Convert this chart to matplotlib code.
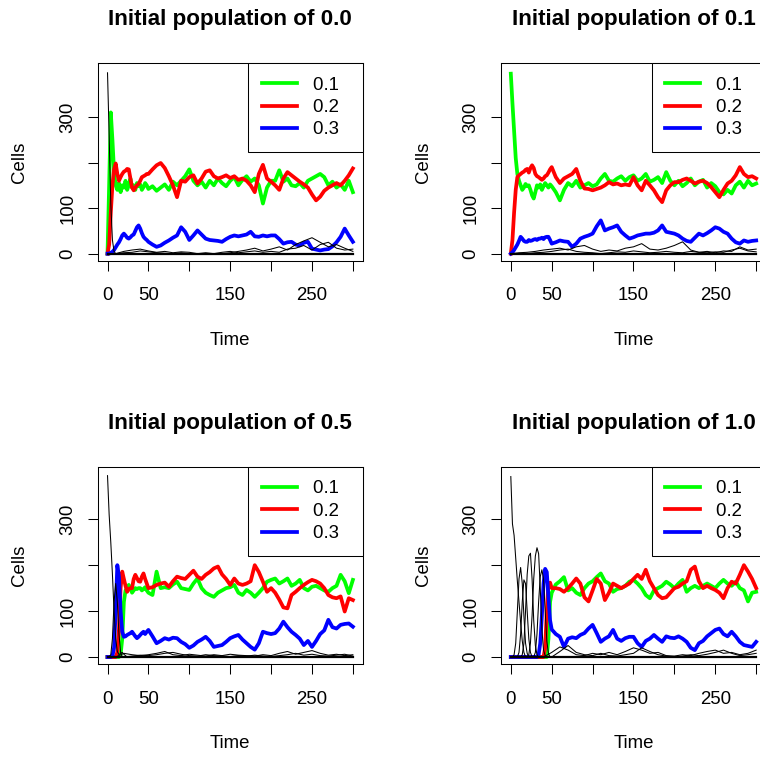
import matplotlib
matplotlib.use('Agg')
import matplotlib.pyplot as plt

plt.rcParams['font.family'] = ['Liberation Sans', 'DejaVu Sans']

# time grids: fine at the start, then every 5 steps
head_t = list(range(0, 51, 2))
tail_t = list(range(55, 301, 5))
time = head_t + tail_t
coarse_t = list(range(0, 301, 10))

labels = ['0.1', '0.2', '0.3']
colors = ['#00FF00', '#FF0000', '#0000FF']
titles = ['Initial population of 0.0', 'Initial population of 0.1',
          'Initial population of 0.5', 'Initial population of 1.0']
x_ticks = [0, 50, 100, 150, 200, 250, 300]
x_ticklabels = ['0', '50', '', '150', '', '250', '']
y_ticks = [0, 100, 200, 300]
y_ticklabels = ['0', '100', '', '300']

# ---- initial population 0.0
green_00 = [0, 150, 310, 250, 180, 150, 140, 155, 135, 150, 145, 160, 140, 150, 165, 145, 150, 140, 155, 148, 152, 140, 146, 155, 150, 142,
            148, 138, 145, 152, 140, 158, 150, 160, 170, 185, 160, 150, 158, 145, 160, 150, 165, 155, 148, 160,
            168, 150, 162, 170, 158, 165, 150, 110, 145, 160, 160, 183, 158, 165, 150, 148, 155, 145, 160, 165,
            170, 175, 168, 150, 158, 145, 152, 140, 160, 135]
red_00 = [0, 20, 90, 150, 185, 198, 175, 160, 168, 175, 180, 182, 186, 185, 165, 145, 139, 145, 150, 153, 160, 168, 170, 172, 175, 175,
          185, 194, 199, 188, 170, 150, 124, 160, 158, 168, 172, 154, 165, 180, 183, 170, 165, 168, 172, 166,
          170, 162, 165, 160, 150, 135, 175, 195, 165, 158, 150, 140, 165, 179, 172, 165, 158, 152, 145, 130,
          117, 125, 138, 145, 150, 155, 150, 160, 172, 187]
blue_00 = [0, 0, 2, 4, 8, 14, 20, 25, 32, 40, 44, 40, 35, 33, 36, 40, 42, 50, 58, 62, 55, 45, 37, 33, 30, 26,
           20, 15, 18, 24, 29, 35, 40, 58, 48, 30, 40, 51, 42, 33, 30, 29, 28, 26, 32, 37,
           40, 38, 40, 42, 48, 38, 37, 40, 38, 40, 40, 32, 22, 25, 26, 20, 18, 24, 26, 11,
           9, 7, 9, 10, 16, 25, 37, 55, 40, 26]
early_00 = [[397, 260, 110, 30, 5] + [0] * 21]
late_00 = [[0, 0, 5, 8, 10, 6, 3, 5, 2, 4, 3, 0, 2, 0, 0, 2, 5, 8, 12, 6, 10, 15, 8, 20, 28, 35, 25, 15, 20, 12, 5],
           [0, 0, 2, 3, 6, 4, 2, 1, 0, 2, 0, 0, 0, 0, 3, 5, 2, 4, 6, 3, 5, 3, 10, 12, 18, 8, 20, 25, 12, 8, 10]]

# ---- initial population 0.1
green_01 = [395, 330, 270, 210, 175, 160, 150, 140, 145, 153, 148, 150, 140, 128, 121, 135, 150, 145, 152, 140, 148, 155, 150, 145, 152, 148,
            135, 117, 140, 155, 148, 160, 145, 150, 155, 148, 152, 165, 175, 160, 158, 165, 170, 160, 168, 172,
            160, 165, 175, 158, 162, 168, 155, 179, 160, 150, 160, 148, 155, 165, 150, 158, 162, 145, 155, 148,
            135, 130, 140, 132, 150, 158, 145, 160, 150, 154]
red_01 = [0, 30, 90, 140, 168, 172, 175, 178, 180, 184, 186, 178, 188, 194, 188, 175, 170, 168, 165, 162, 165, 170, 172, 178, 185, 190,
          168, 155, 165, 170, 175, 186, 160, 143, 142, 139, 142, 145, 150, 157, 152, 154, 150, 152, 150, 168,
          150, 139, 160, 150, 139, 124, 113, 139, 150, 157, 157, 162, 165, 160, 154, 158, 160, 155, 146, 135,
          124, 140, 154, 160, 172, 190, 175, 168, 170, 165]
blue_01 = [0, 3, 8, 14, 20, 28, 37, 33, 28, 26, 26, 30, 28, 29, 31, 32, 30, 33, 33, 35, 32, 36, 37, 37, 30, 22,
           25, 29, 27, 26, 15, 22, 33, 37, 40, 44, 60, 73, 51, 55, 58, 62, 48, 40, 33, 36,
           40, 42, 44, 44, 46, 51, 62, 48, 46, 44, 40, 33, 28, 26, 35, 44, 40, 45, 51, 58,
           55, 48, 44, 33, 25, 22, 29, 26, 28, 29]
early_01 = []
late_01 = [[0, 2, 3, 5, 8, 10, 12, 8, 15, 18, 10, 5, 8, 6, 12, 15, 22, 10, 8, 12, 18, 26, 8, 3, 5, 2, 6, 5, 15, 8, 10],
           [0, 0, 0, 2, 3, 5, 8, 10, 5, 3, 2, 0, 2, 4, 3, 6, 4, 2, 3, 5, 3, 2, 5, 3, 2, 4, 3, 8, 12, 6, 4]]

# ---- initial population 0.5
green_05 = [0] * 8 + [5, 40, 120, 145, 150, 157, 150, 140, 145, 150, 148, 150, 150, 145, 148, 152, 145, 140,
            135, 186, 150, 152, 150, 158, 164, 150, 148, 146, 160, 171, 150, 140, 135, 131, 140, 145, 150, 152,
            157, 140, 135, 146, 140, 131, 140, 150, 164, 168, 171, 160, 165, 171, 155, 160, 168, 150, 145, 153,
            155, 150, 145, 142, 150, 155, 179, 165, 139, 168]
red_05 = [0] * 6 + [10, 60, 150, 186, 170, 155, 142, 148, 150, 150, 170, 179, 172, 165, 164, 175, 182, 170, 160, 150,
          152, 157, 160, 162, 153, 165, 175, 172, 170, 179, 188, 175, 170, 179, 185, 193, 197, 180, 170, 157,
          171, 160, 157, 160, 165, 200, 185, 164, 142, 150, 140, 125, 108, 106, 135, 142, 150, 157, 163, 168,
          165, 160, 150, 135, 130, 128, 132, 99, 128, 124]
blue_05 = [0, 0, 0, 2, 20, 100, 200, 175, 100, 55, 44, 45, 48, 50, 52, 55, 50, 45, 41, 44, 48, 52, 55, 50, 55, 59,
           45, 30, 35, 41, 38, 42, 41, 33, 28, 20, 25, 33, 38, 44, 35, 22, 24, 26, 33, 41,
           45, 48, 38, 30, 22, 16, 30, 55, 52, 50, 52, 62, 77, 65, 55, 48, 40, 26, 35, 22,
           35, 50, 58, 81, 65, 62, 70, 72, 73, 66]
early_05 = [[395, 310, 250, 180, 100, 40, 12, 5, 8, 10, 6, 3] + [0] * 14,
            [0, 0, 5, 40, 120, 160, 120, 50, 10] + [0] * 17]
late_05 = [[0, 0, 8, 5, 3, 5, 8, 12, 5, 3, 6, 4, 2, 5, 3, 6, 4, 3, 2, 5, 3, 8, 12, 6, 10, 14, 8, 4, 6, 3, 5],
           [0, 0, 0, 2, 4, 3, 5, 8, 10, 6, 3, 2, 5, 3, 2, 1, 3, 2, 4, 2, 1, 3, 5, 8, 4, 6, 3, 2, 4, 6, 2]]

# ---- initial population 1.0
green_10 = [0] * 23 + [40, 120, 140,
            158, 165, 174, 145, 150, 140, 135, 150, 160, 165, 174, 182, 165, 160, 142, 148, 150, 155, 164, 168,
            160, 150, 135, 128, 145, 150, 155, 164, 158, 150, 160, 168, 142, 150, 155, 150, 155, 160, 155, 150,
            160, 168, 160, 155, 164, 150, 145, 121, 140, 142]
red_10 = [0] * 21 + [20, 100, 160, 162, 150,
          150, 148, 142, 150, 160, 171, 160, 130, 121, 145, 170, 160, 124, 140, 160, 155, 150, 155, 160, 170,
          179, 170, 190, 165, 150, 135, 128, 130, 140, 150, 153, 160, 165, 190, 197, 165, 150, 155, 150, 146,
          140, 128, 150, 164, 160, 179, 200, 186, 170, 150]
blue_10 = [0] * 17 + [5, 30, 90, 160, 192, 185, 130, 80, 60,
           50, 44, 22, 40, 43, 41, 48, 52, 62, 70, 52, 33, 40, 45, 59, 40, 35, 41, 44, 44,
           30, 22, 35, 40, 48, 40, 33, 45, 42, 41, 45, 40, 33, 20, 15, 30, 35, 45, 52, 59,
           62, 50, 45, 55, 45, 33, 26, 24, 22, 33]
early_10 = [[393, 290, 265, 215, 165, 120, 75, 35, 10] + [0] * 17,
            [0, 0, 5, 30, 100, 170, 195, 160, 90, 30, 8] + [0] * 15,
            [0, 0, 0, 0, 0, 10, 50, 120, 168, 160, 100, 40, 10] + [0] * 13,
            [0] * 7 + [5, 30, 100, 180, 220, 226, 170, 80, 25, 5] + [0] * 9,
            [0] * 11 + [5, 30, 90, 170, 220, 238, 225, 150, 60, 15, 3] + [0] * 4,
            [0] * 15 + [10, 50, 120, 175, 190, 170, 100, 35, 8, 0, 0]]
late_10 = [[0, 0, 0, 0, 0, 10, 22, 15, 5, 3, 8, 5, 10, 5, 12, 20, 15, 8, 10, 3, 2, 5, 3, 8, 12, 15, 8, 10, 5, 8, 15],
           [0, 0, 0, 0, 0, 0, 12, 25, 10, 5, 3, 8, 3, 2, 5, 8, 20, 12, 5, 2, 0, 2, 5, 3, 6, 10, 15, 8, 3, 5, 8]]

zero_line = [0] * 31

panels = [
    (green_00, red_00, blue_00, early_00, late_00),
    (green_01, red_01, blue_01, early_01, late_01),
    (green_05, red_05, blue_05, early_05, late_05),
    (green_10, red_10, blue_10, early_10, late_10),
]

W, H = 760, 758
fig = plt.figure(figsize=(W / 100, H / 100), dpi=100)

# plot boxes in pixels: left, top, width, height (right column runs off the page)
boxes = [(97.7, 63, 265, 198), (501, 63, 265, 198),
         (97.7, 466.7, 265, 197.6), (501, 466.7, 265, 197.6)]
ylims = [(-16.1, 418.5), (-16.1, 418.5), (-15.9, 414.5), (-15.9, 414.5)]

fs = 13.4
for i, (green, red, blue, early, late) in enumerate(panels):
    l, t, w, h = boxes[i]
    ax = fig.add_axes([l / W, 1 - (t + h) / H, w / W, h / H])
    for series, lab, col in zip((green, red, blue), labels, colors):
        ax.plot(time, series, color=col, lw=2.7, label=lab, solid_joinstyle='round')
    ax.plot(coarse_t, zero_line, color='black', lw=1.6)
    for k in early:
        ax.plot(head_t, k, color='black', lw=0.75)
    for k in late:
        ax.plot(coarse_t, k, color='black', lw=0.75)

    ax.set_xlim(-12, 312)
    ax.set_ylim(*ylims[i])
    ax.set_xticks(x_ticks)
    ax.set_xticklabels(x_ticklabels)
    ax.set_yticks(y_ticks)
    ax.set_yticklabels(y_ticklabels, rotation=90, va='center')
    ax.tick_params(length=7.5, width=0.75, labelsize=fs)
    ax.tick_params(axis='x', pad=11.5)
    ax.tick_params(axis='y', pad=8)
    for sp in ax.spines.values():
        sp.set_linewidth(0.75)

    ax.text(0.5, 1 + 43 / h, titles[i], transform=ax.transAxes, ha='center', va='center',
            fontsize=16.1, fontweight='bold')
    ax.text(0.5, -79.5 / h, 'Time', transform=ax.transAxes, ha='center', va='center', fontsize=fs)
    ax.text(-78 / w, 0.5, 'Cells', transform=ax.transAxes, ha='center', va='center',
            rotation=90, fontsize=fs)

    leg = ax.legend(loc='upper right', borderaxespad=0, fancybox=False, framealpha=1,
                    edgecolor='black', fontsize=fs, handlelength=1.88, handletextpad=0.86,
                    borderpad=0.73, labelspacing=0.29)
    leg.get_frame().set_linewidth(0.75)
    for txt in leg.get_texts():
        txt.set_text(txt.get_text() + '  ')

fig.savefig('out.png', dpi=100)
